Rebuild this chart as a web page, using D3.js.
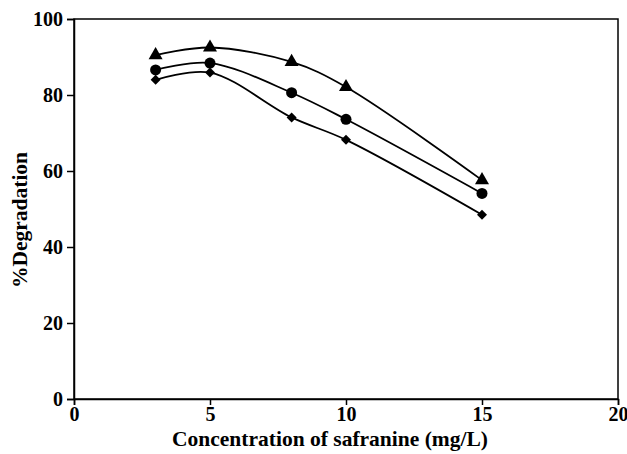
<!DOCTYPE html>
<html>
<head>
<meta charset="utf-8">
<script src="https://cdn.jsdelivr.net/npm/d3@7"></script>
<style>
  body { margin: 0; background: #fff; }
  svg text { font-family: "Liberation Serif", "Times New Roman", Times, serif !important; font-weight: bold; }
</style>
</head>
<body>
<svg id="chart" width="627" height="454"></svg>
<script>
// concentration of safranine (mg/L)
const concentrations = [3, 5, 8, 10, 15];

// % degradation for each series
const triangleSeries = [90.5, 92.5, 88.7, 82.1, 57.6];
const circleSeries = [86.6, 88.4, 80.6, 73.6, 54.1];
const diamondSeries = [84.0, 85.9, 74.1, 68.2, 48.5];

const xTicks = [0, 5, 10, 15, 20];
const yTicks = [0, 20, 40, 60, 80, 100];

const series = [
  { name: "triangle", values: triangleSeries, symbol: d3.symbolTriangle, size: 85, rot: 0 },
  { name: "circle", values: circleSeries, symbol: d3.symbolCircle, size: 95, rot: 0 },
  { name: "diamond", values: diamondSeries, symbol: d3.symbolSquare, size: 50, rot: 45 }
];

const svg = d3.select("#chart");
const margin = { left: 74, right: 9, top: 19, bottom: 55 };
const width = 627 - margin.left - margin.right;
const height = 454 - margin.top - margin.bottom;

const x = d3.scaleLinear().domain([0, 20]).range([0, width]);
const y = d3.scaleLinear().domain([0, 100]).range([height, 0]);

const g = svg.append("g").attr("transform", `translate(${margin.left},${margin.top})`);

// plot frame
g.append("rect")
  .attr("width", width)
  .attr("height", height)
  .attr("fill", "none")
  .attr("stroke", "#000")
  .attr("stroke-width", 1.5);

const xAxis = g.append("g")
  .attr("transform", `translate(0,${height})`)
  .call(d3.axisBottom(x).tickValues(xTicks).tickSize(6).tickPadding(2));

const yAxis = g.append("g")
  .call(d3.axisLeft(y).tickValues(yTicks).tickSize(7).tickPadding(4));

[xAxis, yAxis].forEach(ax => {
  ax.attr("font-family", null).attr("font-size", null);
  ax.select(".domain").attr("stroke-width", 1.5);
  ax.selectAll(".tick line").attr("stroke-width", 1.5);
  ax.selectAll(".tick text")
    .attr("fill", "#000")
    .style("font-size", "20px");
});

// smoothed lines
const line = d3.line()
  .x((d, i) => x(concentrations[i]))
  .y(d => y(d))
  .curve(d3.curveCatmullRom.alpha(0.5));

series.forEach(s => {
  g.append("path")
    .datum(s.values)
    .attr("fill", "none")
    .attr("stroke", "#000")
    .attr("stroke-width", 1.8)
    .attr("d", line);

  g.selectAll(`.pt-${s.name}`)
    .data(s.values)
    .join("path")
    .attr("class", `pt-${s.name}`)
    .attr("transform", (d, i) => `translate(${x(concentrations[i])},${y(d)}) rotate(${s.rot})`)
    .attr("d", d3.symbol().type(s.symbol).size(s.size))
    .attr("fill", "#000");
});

// axis titles
svg.append("text")
  .attr("x", 330)
  .attr("y", 446)
  .attr("text-anchor", "middle")
  .style("font-size", "21.5px")
  .text("Concentration of safranine (mg/L)");

svg.append("text")
  .attr("transform", "translate(27,220) rotate(-90)")
  .attr("text-anchor", "middle")
  .style("font-size", "21.5px")
  .text("%Degradation");
</script>
</body>
</html>
